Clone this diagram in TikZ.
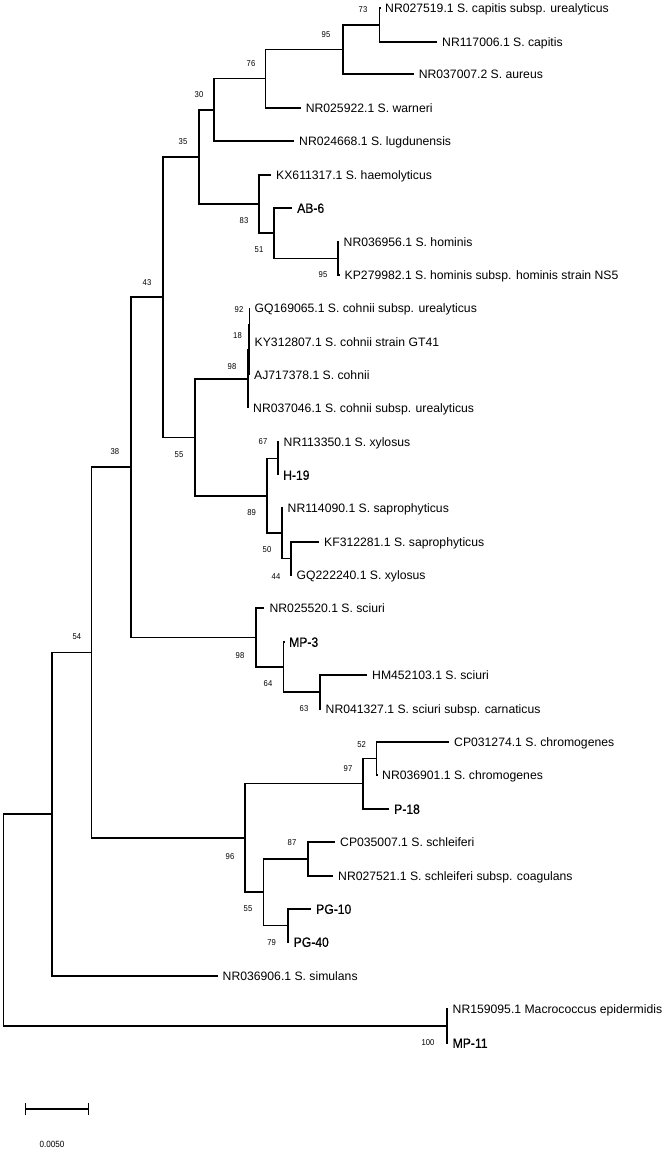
\documentclass[tikz,border=0pt]{standalone}
\usepackage{fontspec}
\setmainfont{Liberation Sans}
\newfontfamily\tipfont{Liberation Sans}
\newfontfamily\strainfont[FakeStretch=0.9,FakeBold=0.6]{Liberation Sans}
\newfontfamily\bsfont[FakeStretch=0.9]{Liberation Sans}
\begin{document}
\begin{tikzpicture}[x=1pt,y=-1pt,
  branch/.style={line width=1.5pt,black},
  tip/.style={anchor=west,inner xsep=5pt,inner ysep=0pt,text height=8.7pt,text depth=0pt,
    font=\tipfont\fontsize{12.2}{14}\selectfont},
  strain/.style={anchor=west,inner xsep=5pt,inner ysep=0pt,text height=9.7pt,text depth=0pt,
    font=\strainfont\fontsize{13.5}{15}\selectfont},
  bs/.style={inner sep=0pt,font=\bsfont\fontsize{8.5}{10}\selectfont},
  scalelab/.style={inner sep=0pt,font=\bsfont\fontsize{9}{10}\selectfont}]
\useasboundingbox (0,0) rectangle (665,1152);
\fill[white] (0,0) rectangle (665,1152);

% internal nodes
\coordinate (n73)  at (379.5,25);
\coordinate (n95a) at (343,49.5);
\coordinate (n76)  at (265.7,78.7);
\coordinate (n30)  at (214,110);
\coordinate (n95b) at (338,258.5);
\coordinate (n51)  at (274,233);
\coordinate (n83)  at (259,204);
\coordinate (n35)  at (199,157);
\coordinate (n92)  at (249.5,325);
\coordinate (n18)  at (249,350);
\coordinate (n98c) at (248,379);
\coordinate (n67)  at (278,458.5);
\coordinate (n44)  at (291,558.5);
\coordinate (n50)  at (282,533);
\coordinate (n89)  at (267,496);
\coordinate (n55a) at (195,437.5);
\coordinate (n43)  at (163,297);
\coordinate (n63)  at (320,692);
\coordinate (n64)  at (283.6,667);
\coordinate (n98s) at (256,637.5);
\coordinate (n38)  at (131,467);
\coordinate (n52)  at (376.5,758.5);
\coordinate (n97)  at (363,783.7);
\coordinate (n87)  at (308,859);
\coordinate (n79)  at (288,925.5);
\coordinate (n55b) at (263.5,892);
\coordinate (n96)  at (245,838);
\coordinate (n54)  at (91.7,652.5);
\coordinate (nA)   at (52,814);
\coordinate (n100) at (447,1026);
\coordinate (root) at (3.4,920);

% tips
\node[tip] (t1) at (380,8) {NR027519.1 S. capitis subsp. urealyticus};
\node[tip] (t2) at (437,42) {NR117006.1 S. capitis};
\node[tip] (t3) at (413.6,74) {NR037007.2 S. aureus};
\node[tip] (t4) at (300.6,108) {NR025922.1 S. warneri};
\node[tip] (t5) at (294,141) {NR024668.1 S. lugdunensis};
\node[tip] (t6) at (271,175) {KX611317.1 S. haemolyticus};
\node[strain] (t7) at (292,208) {AB-6};
\node[tip] (t8) at (338.5,242) {NR036956.1 S. hominis};
\node[tip] (t9) at (339.5,275) {KP279982.1 S. hominis subsp. hominis strain NS5};
\node[tip] (t10) at (249.5,308) {GQ169065.1 S. cohnii subsp. urealyticus};
\node[tip] (t11) at (249.5,342) {KY312807.1 S. cohnii strain GT41};
\node[tip] (t12) at (249,375) {AJ717378.1 S. cohnii};
\node[tip] (t13) at (248,408) {NR037046.1 S. cohnii subsp. urealyticus};
\node[tip] (t14) at (278.5,442) {NR113350.1 S. xylosus};
\node[strain] (t15) at (278,475) {H-19};
\node[tip] (t16) at (282.5,508) {NR114090.1 S. saprophyticus};
\node[tip] (t17) at (319,542) {KF312281.1 S. saprophyticus};
\node[tip] (t18) at (291.5,575) {GQ222240.1 S. xylosus};
\node[tip] (t19) at (264.4,608) {NR025520.1 S. sciuri};
\node[strain] (t20) at (284,642) {MP-3};
\node[tip] (t21) at (367,675) {HM452103.1 S. sciuri};
\node[tip] (t22) at (320.5,709) {NR041327.1 S. sciuri subsp. carnaticus};
\node[tip] (t23) at (449,742) {CP031274.1 S. chromogenes};
\node[tip] (t24) at (377,775) {NR036901.1 S. chromogenes};
\node[strain] (t25) at (389,809) {P-18};
\node[tip] (t26) at (335,842) {CP035007.1 S. schleiferi};
\node[tip] (t27) at (333,876) {NR027521.1 S. schleiferi subsp. coagulans};
\node[strain] (t28) at (311,909) {PG-10};
\node[strain] (t29) at (288.5,942) {PG-40};
\node[tip] (t30) at (217.5,976) {NR036906.1 S. simulans};
\node[tip] (t31) at (447.5,1009) {NR159095.1 Macrococcus epidermidis};
\node[strain] (t32) at (447.5,1043) {MP-11};

% branches
\draw[branch] (n73) |- (t1.west);
\draw[branch] (n73) |- (t2.west);
\draw[branch] (n95a) |- (n73);
\draw[branch] (n95a) |- (t3.west);
\draw[branch] (n76) |- (n95a);
\draw[branch] (n76) |- (t4.west);
\draw[branch] (n30) |- (n76);
\draw[branch] (n30) |- (t5.west);
\draw[branch] (n95b) |- (t8.west);
\draw[branch] (n95b) |- (t9.west);
\draw[branch] (n51) |- (t7.west);
\draw[branch] (n51) |- (n95b);
\draw[branch] (n83) |- (t6.west);
\draw[branch] (n83) |- (n51);
\draw[branch] (n35) |- (n30);
\draw[branch] (n35) |- (n83);
\draw[branch] (n92) |- (t10.west);
\draw[branch] (n92) |- (t11.west);
\draw[branch] (n18) |- (n92);
\draw[branch] (n18) |- (t12.west);
\draw[branch] (n98c) |- (n18);
\draw[branch] (n98c) |- (t13.west);
\draw[branch] (n67) |- (t14.west);
\draw[branch] (n67) |- (t15.west);
\draw[branch] (n44) |- (t17.west);
\draw[branch] (n44) |- (t18.west);
\draw[branch] (n50) |- (t16.west);
\draw[branch] (n50) |- (n44);
\draw[branch] (n89) |- (n67);
\draw[branch] (n89) |- (n50);
\draw[branch] (n55a) |- (n98c);
\draw[branch] (n55a) |- (n89);
\draw[branch] (n43) |- (n35);
\draw[branch] (n43) |- (n55a);
\draw[branch] (n63) |- (t21.west);
\draw[branch] (n63) |- (t22.west);
\draw[branch] (n64) |- (t20.west);
\draw[branch] (n64) |- (n63);
\draw[branch] (n98s) |- (t19.west);
\draw[branch] (n98s) |- (n64);
\draw[branch] (n38) |- (n43);
\draw[branch] (n38) |- (n98s);
\draw[branch] (n52) |- (t23.west);
\draw[branch] (n52) |- (t24.west);
\draw[branch] (n97) |- (n52);
\draw[branch] (n97) |- (t25.west);
\draw[branch] (n87) |- (t26.west);
\draw[branch] (n87) |- (t27.west);
\draw[branch] (n79) |- (t28.west);
\draw[branch] (n79) |- (t29.west);
\draw[branch] (n55b) |- (n87);
\draw[branch] (n55b) |- (n79);
\draw[branch] (n96) |- (n97);
\draw[branch] (n96) |- (n55b);
\draw[branch] (n54) |- (n38);
\draw[branch] (n54) |- (n96);
\draw[branch] (nA) |- (n54);
\draw[branch] (nA) |- (t30.west);
\draw[branch] (n100) |- (t31.west);
\draw[branch] (n100) |- (t32.west);
\draw[branch] (root) |- (nA);
\draw[branch] (root) |- (n100);

% bootstrap values
\node[bs] (b73) at (363,10) {73};
\node[bs] (b95a) at (326,35) {95};
\node[bs] (b76) at (251,64) {76};
\node[bs] (b30) at (199,95) {30};
\node[bs] (b35) at (183,142) {35};
\node[bs] (b83) at (244,221) {83};
\node[bs] (b51) at (259,250) {51};
\node[bs] (b95b) at (323,275) {95};
\node[bs] (b43) at (147,283) {43};
\node[bs] (b92) at (239,310) {92};
\node[bs] (b18) at (237.5,336) {18};
\node[bs] (b98c) at (232,367) {98};
\node[bs] (b38) at (115,452) {38};
\node[bs] (b55a) at (179,455) {55};
\node[bs] (b67) at (263,442) {67};
\node[bs] (b89) at (251.6,513) {89};
\node[bs] (b50) at (267,550) {50};
\node[bs] (b44) at (276,577) {44};
\node[bs] (b54) at (77,637) {54};
\node[bs] (b98s) at (240,656) {98};
\node[bs] (b64) at (268,684) {64};
\node[bs] (b63) at (304,709) {63};
\node[bs] (b52) at (361.6,745) {52};
\node[bs] (b97) at (348,769) {97};
\node[bs] (b96) at (230,857) {96};
\node[bs] (b87) at (292,843) {87};
\node[bs] (b55b) at (248,909) {55};
\node[bs] (b79) at (271.6,943) {79};
\node[bs] (b100) at (428,1043) {100};

% scale bar
\coordinate (sbL) at (25.6,1109);
\coordinate (sbR) at (88.7,1109);
\draw[branch] (sbL) -- (sbR);
\draw[branch] ([yshift=-6pt]sbL) -- ([yshift=6pt]sbL);
\draw[branch] ([yshift=-6pt]sbR) -- ([yshift=6pt]sbR);
\node[scalelab] (sblab) at (52,1144) {0.0050};
\end{tikzpicture}
\end{document}
